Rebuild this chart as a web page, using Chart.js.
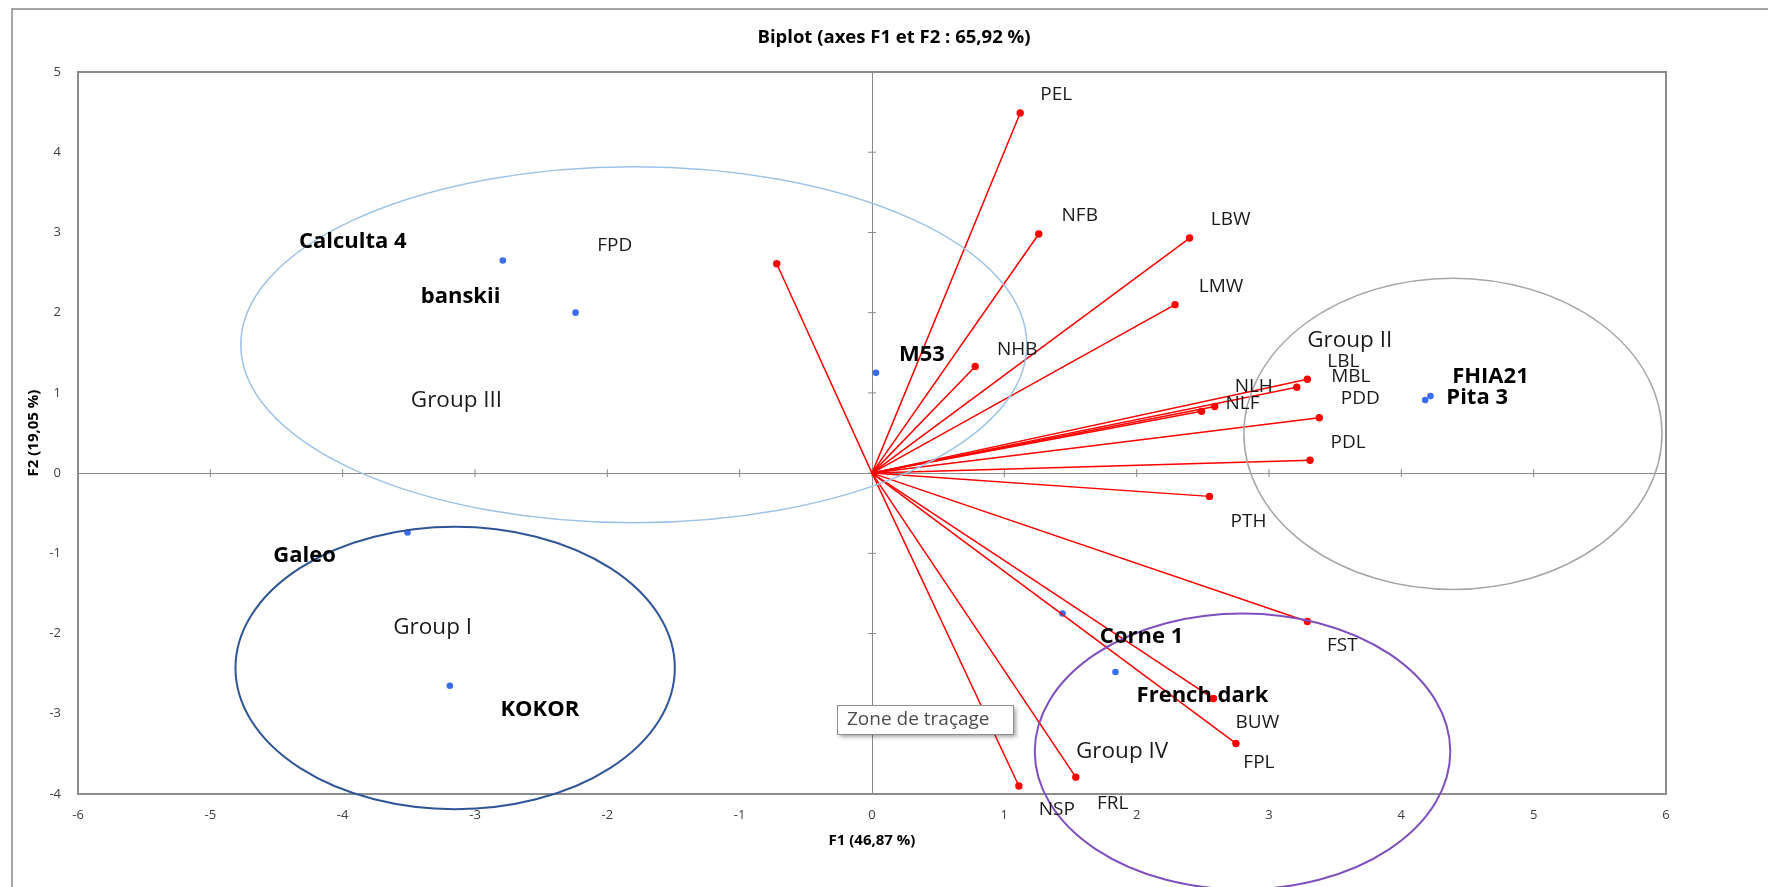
<!DOCTYPE html>
<html>
<head>
<meta charset="utf-8">
<script src="https://cdn.jsdelivr.net/npm/chart.js@4.4.1/dist/chart.umd.min.js"></script>
<style>
  html, body { margin: 0; padding: 0; background: #fff; }
  #zone { width: 1768px; height: 887px; }
</style>
</head>
<body>
<div id="zone"><canvas id="biplot"></canvas></div>
<script>
// ---- Observations (cultivars) ----
const obsNoms = ["Calculta 4", "banskii", "M53", "FHIA21", "Pita 3", "Galeo", "KOKOR", "Corne 1", "French dark"];
const obsF1 = [-2.79, -2.24, 0.03, 4.22, 4.18, -3.51, -3.19, 1.44, 1.84];
const obsF2 = [2.65, 2.00, 1.25, 0.96, 0.91, -0.74, -2.65, -1.75, -2.48];

// ---- Variables ----
const varNoms = ["PEL", "NFB", "LBW", "LMW", "FPD", "NHB", "LBL", "MBL", "NLH", "NLF", "PDD", "PDL", "PTH", "FST", "BUW", "FPL", "FRL", "NSP"];
const varF1 = [1.12, 1.26, 2.40, 2.29, -0.72, 0.78, 3.29, 3.21, 2.59, 2.49, 3.38, 3.31, 2.55, 3.29, 2.58, 2.75, 1.54, 1.11];
const varF2 = [4.49, 2.98, 2.93, 2.10, 2.61, 1.33, 1.17, 1.07, 0.83, 0.77, 0.69, 0.16, -0.29, -1.85, -2.81, -3.37, -3.79, -3.90];

// ---- Groupes (ellipses, en unités des axes) ----
const groupNoms = ["Group III", "Group II", "Group I", "Group IV"];
const groupCx = [-1.80, 4.39, -3.15, 2.80];
const groupCy = [1.60, 0.49, -2.43, -3.47];
const groupRx = [2.97, 1.58, 1.66, 1.57];
const groupRy = [2.22, 1.94, 1.76, 1.72];

// ---- Graduations ----
const ticksX = [-6, -5, -4, -3, -2, -1, 0, 1, 2, 3, 4, 5, 6];
const ticksY = [-4, -3, -2, -1, 0, 1, 2, 3, 4, 5];

// ---- Mise en forme (pas des données) ----
const police = "'Open Sans', 'Liberation Sans', sans-serif";
const couleursGroupes = ["#9DC3E6", "#A6A6A6", "#2F5597", "#7F4FBF"];
// position des textes des groupes (unités des axes)
const groupTexte = { "Group III": [-3.14, 0.91], "Group II": [3.61, 1.65], "Group I": [-3.32, -1.93], "Group IV": [1.89, -3.47] };
// décalage des étiquettes par rapport au point (px)
const decalObs = {
  "Calculta 4": [-150, -19], "banskii": [-115, -16], "M53": [46, -18], "FHIA21": [60, -19], "Pita 3": [52, -2],
  "Galeo": [-103, 23], "KOKOR": [90, 24], "Corne 1": [79, 23], "French dark": [87, 24]
};
const decalVar = {
  PEL: [36, -18], NFB: [41, -18], LBW: [41, -18], LMW: [46, -18], FPD: [-162, -18], NHB: [42, -17],
  LBL: [36, -18], MBL: [54, -11], NLH: [39, -20], NLF: [41, -8], PDD: [41, -19], PDL: [38, -18],
  PTH: [39, 25], FST: [35, 24], BUW: [44, 24], FPL: [23, 19], FRL: [37, 26], NSP: [38, 24]
};

// ---- Jeux de données ----
const datasetsVar = varNoms.map((nom, i) => ({
  label: nom,
  data: [{ x: 0, y: 0 }, { x: varF1[i], y: varF2[i] }],
  showLine: true,
  borderColor: "#FF0000",
  borderWidth: 1.5,
  pointRadius: [0, 3.7],
  pointBackgroundColor: "#FF0000",
  pointBorderWidth: 0
}));

const datasetObs = {
  label: "Observations",
  data: obsF1.map((v, i) => ({ x: v, y: obsF2[i] })),
  pointRadius: 3.3,
  pointBackgroundColor: "#3A6EF2",
  pointBorderWidth: 0
};

// ---- Dessins supplémentaires ----
const decor = {
  id: "decor",
  beforeDraw(chart) {
    const { ctx } = chart;
    ctx.save();
    ctx.fillStyle = "#fff";
    ctx.fillRect(0, 0, chart.width, chart.height);
    ctx.strokeStyle = "#A6A6A6";
    ctx.lineWidth = 2;
    ctx.beginPath();
    ctx.moveTo(12, chart.height);
    ctx.lineTo(12, 9);
    ctx.lineTo(chart.width, 9);
    ctx.stroke();
    ctx.restore();
  },
  beforeDatasetsDraw(chart) {
    const { ctx, chartArea: a, scales: { x, y } } = chart;
    const x0 = x.getPixelForValue(0), y0 = y.getPixelForValue(0);
    ctx.save();
    ctx.strokeStyle = "#8A8A8A";
    ctx.lineWidth = 1;
    ctx.beginPath();
    ticksX.forEach(v => { const px = x.getPixelForValue(v); ctx.moveTo(px, y0 - 4); ctx.lineTo(px, y0 + 4); });
    ticksY.forEach(v => { const py = y.getPixelForValue(v); ctx.moveTo(x0 - 4, py); ctx.lineTo(x0 + 4, py); });
    ctx.stroke();
    ctx.lineWidth = 2;
    ctx.strokeStyle = "#8C8C8C";
    ctx.strokeRect(a.left, a.top, a.right - a.left, a.bottom - a.top);
    ctx.restore();
  },
  afterDatasetsDraw(chart) {
    const { ctx, scales: { x, y } } = chart;
    ctx.save();
    // ellipses des groupes
    groupNoms.forEach((nom, i) => {
      const cx = x.getPixelForValue(groupCx[i]);
      const cy = y.getPixelForValue(groupCy[i]);
      const rx = Math.abs(x.getPixelForValue(groupCx[i] + groupRx[i]) - cx);
      const ry = Math.abs(y.getPixelForValue(groupCy[i] + groupRy[i]) - cy);
      ctx.strokeStyle = couleursGroupes[i];
      ctx.lineWidth = i === 0 || i === 1 ? 1.5 : 2;
      ctx.beginPath();
      ctx.ellipse(cx, cy, rx, ry, 0, 0, Math.PI * 2);
      ctx.stroke();
    });
    ctx.textAlign = "center";
    ctx.textBaseline = "middle";
    // noms des groupes
    ctx.fillStyle = "#1A1A1A";
    ctx.font = "22.5px " + police;
    groupNoms.forEach(nom => {
      const p = groupTexte[nom];
      ctx.fillText(nom, x.getPixelForValue(p[0]), y.getPixelForValue(p[1]));
    });
    // étiquettes des variables
    ctx.font = "19px " + police;
    ctx.fillStyle = "#1A1A1A";
    varNoms.forEach((nom, i) => {
      const pt = chart.getDatasetMeta(i).data[1];
      const d = decalVar[nom];
      ctx.fillText(nom, pt.x + d[0], pt.y + d[1]);
    });
    // étiquettes des observations
    ctx.font = "bold 22px " + police;
    ctx.fillStyle = "#000";
    const metaObs = chart.getDatasetMeta(varNoms.length);
    obsNoms.forEach((nom, i) => {
      const pt = metaObs.data[i];
      const d = decalObs[nom];
      ctx.fillText(nom, pt.x + d[0], pt.y + d[1]);
    });
    // info-bulle Excel
    ctx.shadowColor = "rgba(0,0,0,0.35)";
    ctx.shadowBlur = 4;
    ctx.shadowOffsetX = 3;
    ctx.shadowOffsetY = 3;
    ctx.fillStyle = "#fff";
    ctx.fillRect(837, 705, 176, 29);
    ctx.shadowColor = "transparent";
    ctx.strokeStyle = "#8E8E8E";
    ctx.lineWidth = 1;
    ctx.strokeRect(837.5, 705.5, 176, 29);
    ctx.fillStyle = "#4D4D4D";
    ctx.font = "19px " + police;
    ctx.textAlign = "left";
    ctx.fillText("Zone de traçage", 847, 720);
    ctx.restore();
  }
};

// ---- Graphique ----
new Chart(document.getElementById("biplot"), {
  type: "scatter",
  data: { datasets: [...datasetsVar, datasetObs] },
  plugins: [decor],
  options: {
    responsive: true,
    maintainAspectRatio: false,
    animation: false,
    layout: { padding: { left: 20, right: 0, top: 0, bottom: 0 } },
    plugins: {
      legend: { display: false },
      tooltip: { enabled: false },
      title: {
        display: true,
        text: "Biplot (axes F1 et F2 : 65,92 %)",
        color: "#000",
        font: { family: police, size: 18.5, weight: "bold" },
        padding: { top: 27, bottom: 22.8 }
      }
    },
    scales: {
      x: {
        type: "linear",
        min: -6, max: 6,
        afterBuildTicks: s => { s.ticks = ticksX.map(v => ({ value: v })); },
        afterFit: s => { s.height = 93; },
        ticks: { color: "#404040", font: { family: police, size: 13 }, padding: 13 },
        grid: { drawTicks: false, color: c => (c.tick && c.tick.value === 0 ? "#8A8A8A" : "transparent") },
        border: { display: false },
        title: {
          display: true, text: "F1 (46,87 %)", color: "#000",
          font: { family: police, size: 15, weight: "bold" },
          padding: { top: 0, bottom: 37 }
        }
      },
      y: {
        type: "linear",
        min: -4, max: 5,
        afterBuildTicks: s => { s.ticks = ticksY.map(v => ({ value: v })); },
        afterFit: s => { s.width = 58; },
        ticks: { color: "#404040", font: { family: police, size: 13 }, padding: 17 },
        grid: { drawTicks: false, color: c => (c.tick && c.tick.value === 0 ? "#8A8A8A" : "transparent") },
        border: { display: false },
        title: {
          display: true, text: "F2 (19,05 %)", color: "#000",
          font: { family: police, size: 15, weight: "bold" },
          padding: { top: 5, bottom: 0 }
        }
      },
      // marge droite (axe vide)
      marge: {
        type: "linear",
        position: "right",
        display: true,
        afterFit: s => { s.width = 102; },
        ticks: { display: false },
        grid: { display: false },
        border: { display: false }
      }
    }
  }
});
</script>
</body>
</html>
